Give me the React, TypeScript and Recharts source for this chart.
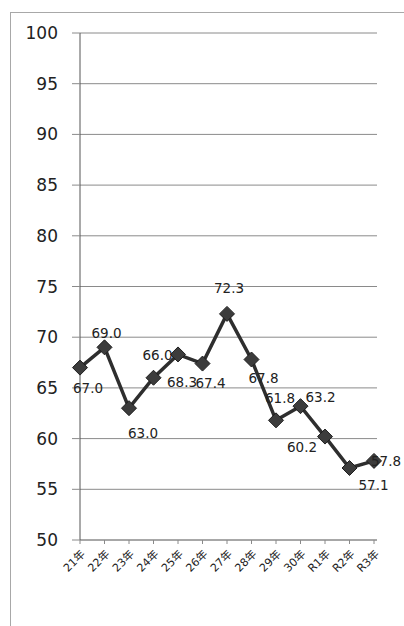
import React from "react";
import { LineChart, Line, XAxis, YAxis, CartesianGrid, LabelList } from "recharts";

const categories = ["21年", "22年", "23年", "24年", "25年", "26年", "27年", "28年", "29年", "30年", "R1年", "R2年", "R3年"];
const values = [67.0, 69.0, 63.0, 66.0, 68.3, 67.4, 72.3, 67.8, 61.8, 63.2, 60.2, 57.1, 57.8];
const yTicks = [50, 55, 60, 65, 70, 75, 80, 85, 90, 95, 100];

// label nudges (style only): [dx, dy] relative to the point
const labelNudges: [number, number][] = [
  [8, 20], [2, -14], [14, 25], [4, -23], [4, 28], [8, 19], [2, -26],
  [12, 18], [4, -22], [20, -9], [-23, 10], [24, 17], [12, 0],
];

const data = categories.map((c, i) => ({ name: c, value: values[i] }));

const FONT = "'DejaVu Sans', 'Noto Sans CJK JP', sans-serif";

const Diamond = (props: any) => {
  const { cx, cy, index } = props;
  if (cx == null || cy == null) return null;
  const r = 7.5;
  return (
    <path
      key={"d" + index}
      d={`M${cx},${cy - r} L${cx + r},${cy} L${cx},${cy + r} L${cx - r},${cy} Z`}
      fill="#3c3c3c"
      stroke="#1e1e1e"
      strokeWidth={1}
    />
  );
};

const ValueLabel = (props: any) => {
  const { x, y, value, index } = props;
  const [dx, dy] = labelNudges[index] || [0, 0];
  return (
    <text
      x={x + dx}
      y={y + dy}
      textAnchor="middle"
      dominantBaseline="central"
      fontFamily={FONT}
      fontSize={13.5}
      fill="#222"
    >
      {Number(value).toFixed(1)}
    </text>
  );
};

const XTick = (props: any) => {
  const { x, y, payload } = props;
  return (
    <g transform={`translate(${x + 3},${y + 6})`}>
      <text
        x={0}
        y={0}
        dy="0.35em"
        textAnchor="end"
        transform="rotate(-45)"
        fontFamily={FONT}
        fontSize={11}
        fill="#222"
      >
        {payload.value}
      </text>
    </g>
  );
};

export default function App() {
  return (
    <div style={{ position: "absolute", left: 0, top: 0, width: 404, height: 626, background: "#fff", overflow: "hidden" }}>
      <div
        style={{
          position: "absolute",
          left: 10,
          top: 12,
          width: 420,
          height: 640,
          borderLeft: "1px solid #a8a8a8",
          borderTop: "1px solid #a8a8a8",
        }}
      />
      <div style={{ position: "absolute", left: 0, top: 0 }}>
        <LineChart
          width={404}
          height={626}
          data={data}
          margin={{ top: 33, right: 27, bottom: 43, left: 0 }}
        >
          <CartesianGrid horizontal vertical={false} stroke="#8a8a8a" strokeWidth={1} />
          <XAxis
            dataKey="name"
            interval={0}
            padding={{ left: 0, right: 3 }}
            height={43}
            tickSize={4}
            axisLine={{ stroke: "#8a8a8a" }}
            tickLine={{ stroke: "#8a8a8a" }}
            tick={<XTick />}
          />
          <YAxis
            domain={[50, 100]}
            ticks={yTicks}
            width={80}
            tickSize={8}
            tickMargin={14}
            axisLine={{ stroke: "#555" }}
            tickLine={{ stroke: "#8a8a8a" }}
            tick={{ fontFamily: FONT, fontSize: 17, fill: "#222" }}
          />
          <Line
            dataKey="value"
            stroke="none"
            dot={false}
            activeDot={false}
            isAnimationActive={false}
          >
            <LabelList dataKey="value" content={<ValueLabel />} />
          </Line>
          <Line
            dataKey="value"
            stroke="#2e2e2e"
            strokeWidth={3.5}
            dot={<Diamond />}
            activeDot={false}
            isAnimationActive={false}
          />
        </LineChart>
      </div>
    </div>
  );
}
